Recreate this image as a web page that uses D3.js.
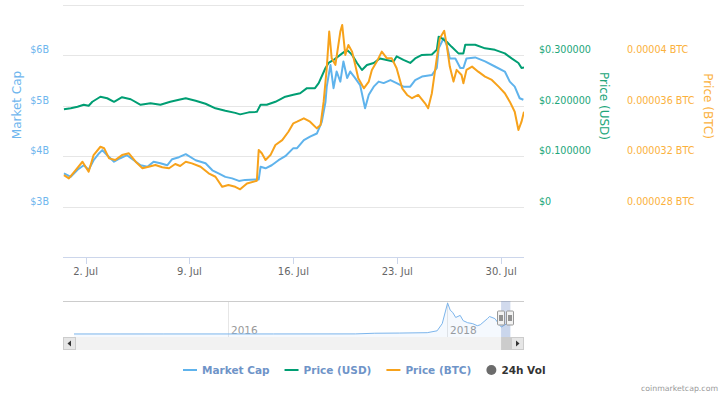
<!DOCTYPE html>
<html><head><meta charset="utf-8">
<script src="https://cdn.jsdelivr.net/npm/d3@7"></script>
<style>body{margin:0;background:#fff;} svg{display:block;font-family:"DejaVu Sans",sans-serif;}</style>
</head><body><svg id="c" width="728" height="395"></svg>
<script>
// ---- data ----
const marketCap = [["06-30 13",3.66],["07-01 00",3.59],["07-01 11",3.73],["07-01 21",3.82],["07-02 05",3.73],["07-02 13",3.92],["07-02 22",4.06],["07-03 03",4.12],["07-03 11",4.02],["07-03 22",3.89],["07-04 08",3.96],["07-04 19",4.02],["07-05 06",3.92],["07-05 17",3.82],["07-06 04",3.79],["07-06 14",3.89],["07-07 01",3.86],["07-07 12",3.82],["07-07 20",3.94],["07-08 07",3.98],["07-08 18",4.04],["07-09 10",3.92],["07-10 02",3.86],["07-10 13",3.72],["07-10 23",3.66],["07-11 10",3.59],["07-11 21",3.56],["07-12 08",3.51],["07-12 18",3.53],["07-13 11",3.54],["07-13 16",3.54],["07-13 19",3.79],["07-14 03",3.76],["07-14 13",3.82],["07-15 00",3.92],["07-15 11",4.00],["07-16 00",4.16],["07-16 06",4.16],["07-16 17",4.32],["07-17 03",4.39],["07-17 14",4.45],["07-17 22",4.68],["07-18 04",5.08],["07-18 06",5.38],["07-18 12",5.81],["07-18 17",5.35],["07-18 22",5.68],["07-19 04",5.48],["07-19 09",5.88],["07-19 15",5.55],["07-19 20",5.68],["07-20 04",5.55],["07-20 12",5.41],["07-20 20",4.95],["07-21 02",5.22],["07-21 10",5.38],["07-21 18",5.48],["07-22 02",5.45],["07-22 13",5.51],["07-22 23",5.45],["07-23 10",5.38],["07-23 21",5.38],["07-24 05",5.51],["07-24 16",5.58],["07-25 08",5.61],["07-25 16",5.75],["07-25 19",6.14],["07-26 03",6.34],["07-26 08",6.21],["07-26 13",5.94],["07-26 22",5.94],["07-27 06",5.75],["07-27 11",5.75],["07-27 16",5.94],["07-28 06",5.96],["07-28 22",5.88],["07-29 14",5.78],["07-30 06",5.68],["07-30 14",5.48],["07-30 22",5.38],["07-31 06",5.15],["07-31 12",5.12]];

const priceUSD = [["06-30 13",0.193],["07-01 00",0.195],["07-01 11",0.198],["07-01 21",0.202],["07-02 05",0.200],["07-02 11",0.208],["07-03 00",0.218],["07-03 11",0.215],["07-03 22",0.208],["07-04 11",0.217],["07-05 01",0.213],["07-05 17",0.202],["07-06 09",0.205],["07-07 01",0.202],["07-07 17",0.208],["07-08 07",0.212],["07-08 18",0.215],["07-09 10",0.210],["07-10 02",0.204],["07-10 18",0.195],["07-11 10",0.190],["07-12 02",0.186],["07-12 10",0.183],["07-13 00",0.187],["07-13 13",0.188],["07-13 19",0.202],["07-14 05",0.202],["07-14 19",0.208],["07-15 11",0.218],["07-16 00",0.222],["07-16 11",0.225],["07-16 22",0.235],["07-17 11",0.235],["07-17 17",0.245],["07-18 04",0.275],["07-18 09",0.285],["07-18 17",0.291],["07-19 07",0.304],["07-19 15",0.311],["07-19 23",0.301],["07-20 07",0.285],["07-20 15",0.271],["07-20 23",0.281],["07-21 10",0.285],["07-21 20",0.294],["07-22 07",0.291],["07-22 18",0.288],["07-22 23",0.298],["07-23 10",0.291],["07-23 21",0.285],["07-24 05",0.294],["07-24 16",0.301],["07-25 08",0.302],["07-25 16",0.311],["07-25 19",0.337],["07-26 00",0.334],["07-26 08",0.327],["07-26 16",0.317],["07-27 03",0.304],["07-27 11",0.304],["07-27 14",0.321],["07-28 06",0.321],["07-28 22",0.314],["07-29 14",0.311],["07-30 06",0.304],["07-30 17",0.294],["07-31 04",0.285],["07-31 09",0.275],["07-31 13",0.276]];

const priceBTC = [["06-30 13",0.00003050],["06-30 21",0.00003024],["07-01 08",0.00003090],["07-01 19",0.00003156],["07-02 05",0.00003077],["07-02 13",0.00003209],["07-03 00",0.00003275],["07-03 06",0.00003263],["07-03 14",0.00003183],["07-04 00",0.00003170],["07-04 11",0.00003209],["07-04 22",0.00003223],["07-05 09",0.00003156],["07-05 20",0.00003104],["07-06 06",0.00003116],["07-06 17",0.00003130],["07-07 04",0.00003112],["07-07 15",0.00003104],["07-08 01",0.00003138],["07-08 09",0.00003122],["07-08 18",0.00003156],["07-09 04",0.00003143],["07-09 18",0.00003116],["07-10 07",0.00003064],["07-10 18",0.00003037],["07-11 05",0.00002957],["07-11 15",0.00002971],["07-12 02",0.00002957],["07-12 10",0.00002937],["07-12 21",0.00002984],["07-13 13",0.00003005],["07-13 16",0.00003249],["07-13 21",0.00003223],["07-14 03",0.00003170],["07-14 11",0.00003209],["07-14 19",0.00003289],["07-15 06",0.00003328],["07-15 16",0.00003394],["07-16 00",0.00003461],["07-16 06",0.00003474],["07-16 17",0.00003501],["07-17 03",0.00003474],["07-17 14",0.00003421],["07-17 20",0.00003448],["07-18 01",0.00003633],["07-18 06",0.00003898],["07-18 10",0.00004189],["07-18 14",0.00003978],["07-18 20",0.00003925],["07-19 04",0.00004189],["07-19 07",0.00004242],["07-19 12",0.00004004],["07-19 17",0.00004083],["07-19 23",0.00004030],["07-20 04",0.00003925],["07-20 09",0.00003819],["07-20 18",0.00003739],["07-21 02",0.00003792],["07-21 07",0.00003885],["07-21 15",0.00003951],["07-21 23",0.00004030],["07-22 07",0.00003978],["07-22 15",0.00003978],["07-22 23",0.00003898],["07-23 08",0.00003739],["07-23 16",0.00003686],["07-24 00",0.00003660],["07-24 10",0.00003686],["07-24 21",0.00003620],["07-25 02",0.00003580],["07-25 08",0.00003700],["07-25 16",0.00003978],["07-25 21",0.00004137],["07-26 04",0.00004195],["07-26 08",0.00004083],["07-26 13",0.00003911],["07-26 19",0.00003792],["07-27 00",0.00003885],["07-27 08",0.00003845],["07-27 11",0.00003779],["07-27 16",0.00003885],["07-28 01",0.00003911],["07-28 11",0.00003871],["07-28 22",0.00003832],["07-29 09",0.00003805],["07-29 20",0.00003752],["07-30 06",0.00003700],["07-30 14",0.00003633],["07-30 22",0.00003553],["07-31 04",0.00003408],["07-31 09",0.00003474],["07-31 13",0.00003553]];

const navMarketCap = [["2014-08-05",0.01],["2015-06-01",0.02],["2016-06-01",0.03],["2017-03-01",0.05],["2017-05-05",0.4],["2017-07-27",0.5],["2017-10-27",0.7],["2017-11-29",1.7],["2017-12-16",5.5],["2018-01-03",16.5],["2018-01-12",12.6],["2018-01-20",11.5],["2018-01-30",8.8],["2018-02-14",9.9],["2018-02-24",7.1],["2018-03-11",6.0],["2018-03-28",5.5],["2018-04-12",4.4],["2018-04-22",4.9],["2018-05-16",8.2],["2018-05-23",9.3],["2018-06-10",8.2],["2018-06-20",6.0],["2018-07-01",3.7],["2018-07-20",5.5],["2018-07-31",5.1]];

const mcapGrid = [3,4,5,6,7];
const mcapTicks = [3,4,5,6];
const usdTicks = [0,0.1,0.2,0.3];
const btcTicks = [0.000028,0.000032,0.000036,0.00004];
const xTicks = ["07-02","07-09","07-16","07-23","07-30"];
const navYearTicks = ["2016","2018"];
const legendItems = [
  {name:"Market Cap", type:"line", color:"#5fb3ec"},
  {name:"Price (USD)", type:"line", color:"#009e73"},
  {name:"Price (BTC)", type:"line", color:"#f7a21b"},
  {name:"24h Vol", type:"circle", color:"#6b6b6b"}
];

// ---- drawing ----
const svg = d3.select("#c");
const parseT = s => d3.timeParse("%Y-%m-%d %H")("2018-" + s);
const parseD = d3.timeParse("%Y-%m-%d");
const C = {mcap:"#5fb3ec", usd:"#009e73", btc:"#f7a21b",
           mcapLab:"#6fb6ee", usdLab:"#21a67a", btcLab:"#fbb13c"};

const L = 63, R = 524, T = 5, B = 257;
const x = d3.scaleTime().domain([new Date(2018,5,30,11,30), new Date(2018,6,31,13,0)]).range([L, R]);
const yM = d3.scaleLinear().domain([2,7]).range([B,T]);
const yU = d3.scaleLinear().domain([-0.1,0.4]).range([B,T]);
const yB = d3.scaleLinear().domain([0.000024,0.000044]).range([B,T]);

// gridlines
svg.append("g").selectAll("line").data(mcapGrid).join("line")
  .attr("x1",L).attr("x2",R).attr("y1",d=>Math.round(yM(d))+0.5).attr("y2",d=>Math.round(yM(d))+0.5)
  .attr("stroke","#e6e6e6").attr("stroke-width",1);

// x axis
const xa = svg.append("g");
xa.append("line").attr("x1",L).attr("x2",R).attr("y1",B+0.5).attr("y2",B+0.5).attr("stroke","#ccd6eb");
const xt = xTicks.map(s => parseT(s + " 00"));
xa.selectAll("line.t").data(xt).join("line").attr("class","t")
  .attr("x1",d=>Math.round(x(d))+0.5).attr("x2",d=>Math.round(x(d))+0.5)
  .attr("y1",B).attr("y2",B+7).attr("stroke","#ccd6eb");
xa.selectAll("text").data(xt).join("text")
  .attr("x",d=>x(d)).attr("y",B+18).attr("text-anchor","middle")
  .attr("font-size",10).attr("fill","#666666")
  .text(d => d3.timeFormat("%-d. %b")(d));

// left axis labels
svg.append("g").selectAll("text").data(mcapTicks).join("text")
  .attr("x",49).attr("y",d=>yM(d)-2).attr("text-anchor","end")
  .attr("font-size",9.6).attr("fill",C.mcapLab).text(d=>"$"+d+"B");
svg.append("text").attr("transform","translate(21,105) rotate(-90)")
  .attr("text-anchor","middle").attr("font-size",12).attr("fill",C.mcapLab).text("Market Cap");

// right axes labels
svg.append("g").selectAll("text").data(usdTicks).join("text")
  .attr("x",539).attr("y",d=>yU(d)-2)
  .attr("font-size",9.6).attr("fill",C.usdLab).text(d=> d===0 ? "$0" : "$"+d.toFixed(6));
svg.append("text").attr("transform","translate(600,106) rotate(90)")
  .attr("text-anchor","middle").attr("font-size",12).attr("fill",C.usdLab).text("Price (USD)");
svg.append("g").selectAll("text").data(btcTicks).join("text")
  .attr("x",627).attr("y",d=>yB(d)-2)
  .attr("font-size",9.6).attr("fill",C.btcLab).text(d=> (+d.toFixed(6)) + " BTC");
svg.append("text").attr("transform","translate(704,106) rotate(90)")
  .attr("text-anchor","middle").attr("font-size",12).attr("fill",C.btcLab).text("Price (BTC)");

// series
svg.append("clipPath").attr("id","plot").append("rect").attr("x",L).attr("y",0).attr("width",R-L).attr("height",B);
const g = svg.append("g").attr("clip-path","url(#plot)");
function draw(data, ys, color){
  g.append("path").datum(data).attr("fill","none").attr("stroke",color).attr("stroke-width",2)
    .attr("stroke-linejoin","round")
    .attr("d", d3.line().x(d=>x(parseT(d[0]))).y(d=>ys(d[1])));
}
draw(marketCap, yM, C.mcap);
draw(priceUSD, yU, C.usd);
draw(priceBTC, yB, C.btc);

// navigator
const NT = 301, NB = 337;
const nx = d3.scaleTime().domain([parseD("2016-01-01"), parseD("2018-01-01")]).range([228,447]);
const ny = d3.scaleLinear().domain([0,16.5]).range([334,303]);
const ng = svg.append("g");
ng.selectAll("line.g").data(navYearTicks).join("line").attr("class","g")
  .attr("x1",d=>Math.round(nx(parseD(d+"-01-01")))+0.5).attr("x2",d=>Math.round(nx(parseD(d+"-01-01")))+0.5)
  .attr("y1",NT).attr("y2",NB).attr("stroke","#e6e6e6");
ng.selectAll("text").data(navYearTicks).join("text")
  .attr("x",d=>nx(parseD(d+"-01-01"))+3).attr("y",NB-3)
  .attr("font-size",10.5).attr("fill","#999999").text(d=>d);
ng.append("path").datum(navMarketCap).attr("fill","rgba(124,181,236,0.08)")
  .attr("d", d3.area().x(d=>nx(parseD(d[0]))).y0(NB).y1(d=>ny(d[1])));
ng.append("path").datum(navMarketCap).attr("fill","none").attr("stroke","#7cb5ec").attr("stroke-width",1)
  .attr("d", d3.line().x(d=>nx(parseD(d[0]))).y(d=>ny(d[1])));
ng.append("line").attr("x1",L).attr("x2",R).attr("y1",NT+0.5).attr("y2",NT+0.5).attr("stroke","#cccccc");
const s0 = nx(x.domain()[0]), s1 = nx(x.domain()[1]);
ng.append("rect").attr("x",s0).attr("y",NT).attr("width",s1-s0).attr("height",NB-NT).attr("fill","rgba(102,133,194,0.3)");
[s0, s1].forEach(sx => {
  const h = ng.append("g").attr("transform",`translate(${Math.round(sx)-3.5},311)`);
  h.append("rect").attr("x",0).attr("y",0).attr("width",7).attr("height",14).attr("rx",1)
    .attr("fill","#f2f2f2").attr("stroke","#999999");
  h.append("line").attr("x1",2.5).attr("x2",2.5).attr("y1",4).attr("y2",10).attr("stroke","#333");
  h.append("line").attr("x1",4.5).attr("x2",4.5).attr("y1",4).attr("y2",10).attr("stroke","#333");
});
// scrollbar
const SB = svg.append("g");
SB.append("rect").attr("x",L).attr("y",NB).attr("width",R-L).attr("height",13).attr("fill","#f2f2f2");
SB.append("rect").attr("x",s0).attr("y",NB).attr("width",Math.max(8,s1-s0+1)).attr("height",13).attr("fill","#cccccc");
[[L,1],[R-13,-1]].forEach(([bx,dir]) => {
  SB.append("rect").attr("x",bx+0.5).attr("y",NB+0.5).attr("width",12).attr("height",12)
    .attr("fill","#e6e6e6").attr("stroke","#cccccc");
  const cx = bx+6.5, cy = NB+6.5;
  SB.append("path").attr("d", dir>0 ? `M${cx+1.5},${cy-3}L${cx+1.5},${cy+3}L${cx-2},${cy}Z` : `M${cx-1.5},${cy-3}L${cx-1.5},${cy+3}L${cx+2},${cy}Z`)
    .attr("fill","#333333");
});

// legend
const lg = svg.append("g").attr("font-size",10.5).attr("font-weight","bold");
let lx = 0;
legendItems.forEach(it => {
  const gi = lg.append("g").attr("transform",`translate(${lx},0)`);
  if (it.type === "line") gi.append("line").attr("x1",0).attr("x2",14).attr("y1",0).attr("y2",0).attr("stroke",it.color).attr("stroke-width",2);
  else gi.append("circle").attr("cx",5).attr("cy",0).attr("r",5).attr("fill",it.color);
  const t = gi.append("text").attr("x", it.type==="line" ? 19 : 15).attr("y",4)
    .attr("fill", it.type==="line" ? "#6f94c8" : "#333333").text(it.name);
  lx += (it.type==="line" ? 19 : 15) + t.node().getComputedTextLength() + 15;
});
lx -= 15;
lg.attr("transform",`translate(${Math.round(364 - lx/2)},370)`);

// credits
svg.append("text").attr("x",718).attr("y",391).attr("text-anchor","end")
  .attr("font-size",7.8).attr("fill","#999999").text("coinmarketcap.com");
</script></body></html>
